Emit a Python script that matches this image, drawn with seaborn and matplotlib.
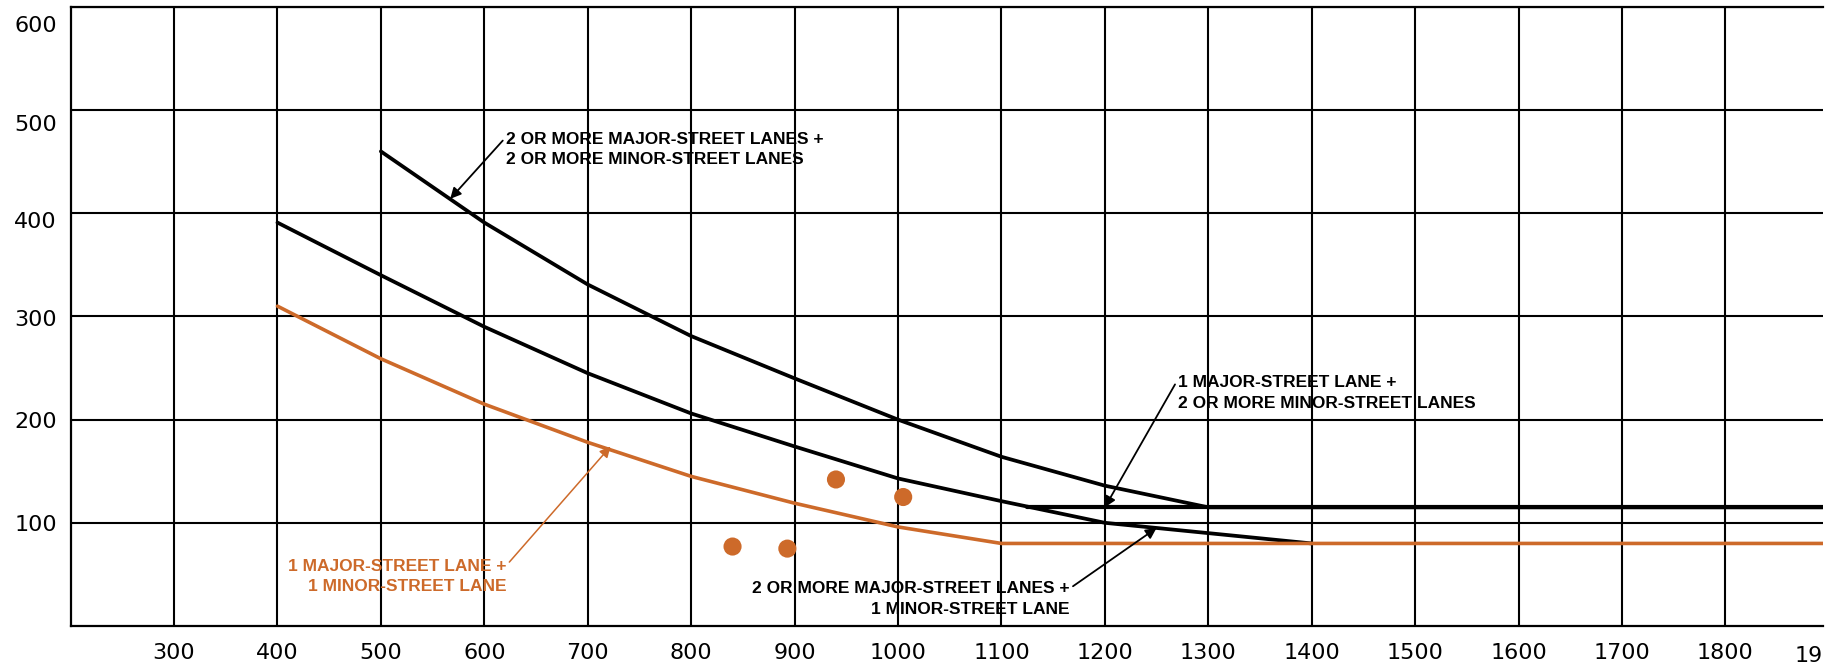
import numpy as np
import pandas as pd
import seaborn as sns
import matplotlib.pyplot as plt
from matplotlib.transforms import offset_copy

# ---------- data ----------
# 2 or more major-street lanes + 2 or more minor-street lanes
major_a = [500, 600, 700, 800, 900, 1000, 1100, 1200, 1300, 1900]
minor_a = [460, 391, 331, 281, 240, 200, 164, 136, 115, 115]

# 2 or more major-street lanes + 1 minor-street lane
major_b = [400, 500, 600, 700, 800, 900, 1000, 1100, 1200, 1300, 1400]
minor_b = [391, 340, 290, 245, 206, 174, 143, 121, 100, 90, 80]

# 1 major-street lane + 2 or more minor-street lanes (flat part)
major_c = [1125, 1900]
minor_c = [115, 115]

# 1 major-street lane + 1 minor-street lane
major_d = [400, 500, 600, 700, 800, 900, 1000, 1100, 1900]
minor_d = [310, 259, 215, 178, 145, 119, 96, 80, 80]

# observed hours
obs_major = [840, 893, 940, 1005]
obs_minor = [77, 75, 142, 125]

x_ticks = [300, 400, 500, 600, 700, 800, 900, 1000, 1100, 1200, 1300, 1400, 1500, 1600, 1700, 1800]
y_ticks = [100, 200, 300, 400, 500, 600]
# the y labels in the drawing sit a little below their grid lines near the top
y_label_drop = [0, 0, 2, 7, 13, 17]

orange = "#cd6a2a"

sns.set_theme(style="white")
plt.rcParams['font.family'] = ['DejaVu Sans']

fig = plt.figure(figsize=(18.39, 6.70), dpi=100)
ax = fig.add_axes([0.0384, 0.0657, 0.9527, 0.9239])

df_a = pd.DataFrame({"major": major_a, "minor": minor_a})
df_b = pd.DataFrame({"major": major_b, "minor": minor_b})
df_c = pd.DataFrame({"major": major_c, "minor": minor_c})
df_d = pd.DataFrame({"major": major_d, "minor": minor_d})
df_obs = pd.DataFrame({"major": obs_major, "minor": obs_minor})

sns.lineplot(data=df_a, x="major", y="minor", sort=False, color="black", lw=2.7, ax=ax)
sns.lineplot(data=df_b, x="major", y="minor", sort=False, color="black", lw=2.7, ax=ax)
sns.lineplot(data=df_c, x="major", y="minor", sort=False, color="black", lw=3.0, ax=ax)
sns.lineplot(data=df_d, x="major", y="minor", sort=False, color=orange, lw=2.6, ax=ax)
sns.scatterplot(data=df_obs, x="major", y="minor", color=orange, s=170, edgecolor="none", ax=ax, zorder=5)

ax.set_xlim(200, 1894)
ax.set_ylim(0, 600)
ax.set_xticks(x_ticks)
ax.set_yticks(y_ticks)
ax.set_xlabel("")
ax.set_ylabel("")
ax.grid(True, color="black", lw=1.5)
ax.set_axisbelow(True)
for s in ["left", "bottom", "top"]:
    ax.spines[s].set_color("black")
    ax.spines[s].set_linewidth(1.6)
ax.spines["right"].set_visible(False)
ax.tick_params(axis="x", length=0, pad=12, labelsize=16, colors="black")
ax.tick_params(axis="y", length=0, pad=10, labelsize=16, colors="black")
for lbl, dy in zip(ax.get_yticklabels(), y_label_drop):
    lbl.set_transform(offset_copy(lbl.get_transform(), fig=fig, x=0, y=-dy, units="dots"))
# cropped 1900 tick label at the right edge
ax.text(1894, -0.032, "19", transform=ax.get_xaxis_transform(), ha="right", va="top",
        fontsize=16, color="black", clip_on=False)

lab = dict(fontsize=12.5, fontweight="bold", family="Liberation Sans", linespacing=1.45, color="black")
arr = dict(arrowstyle="-|>", lw=1.3, color="black", shrinkA=0, shrinkB=0, mutation_scale=16)

ax.annotate("2 OR MORE MAJOR-STREET LANES +\n2 OR MORE MINOR-STREET LANES",
            xy=(567, 414), xytext=(621, 462), ha="left", va="center",
            arrowprops=dict(arr, relpos=(0, 0.85)), **lab)
ax.annotate("1 MAJOR-STREET LANE +\n2 OR MORE MINOR-STREET LANES",
            xy=(1200, 115), xytext=(1271, 226), ha="left", va="center",
            arrowprops=dict(arr, relpos=(0, 0.9)), **lab)
ax.annotate("2 OR MORE MAJOR-STREET LANES +\n1 MINOR-STREET LANE",
            xy=(1250, 95), xytext=(1166, 26), ha="right", va="center",
            arrowprops=dict(arr, relpos=(1, 0.8)), **lab)
lab["color"] = orange
ax.annotate("1 MAJOR-STREET LANE +\n1 MINOR-STREET LANE",
            xy=(722, 174), xytext=(621, 48), ha="right", va="center",
            arrowprops=dict(arr, color=orange, lw=1.1, relpos=(1, 0.8)), **lab)

fig.savefig("out.png", dpi=100)
